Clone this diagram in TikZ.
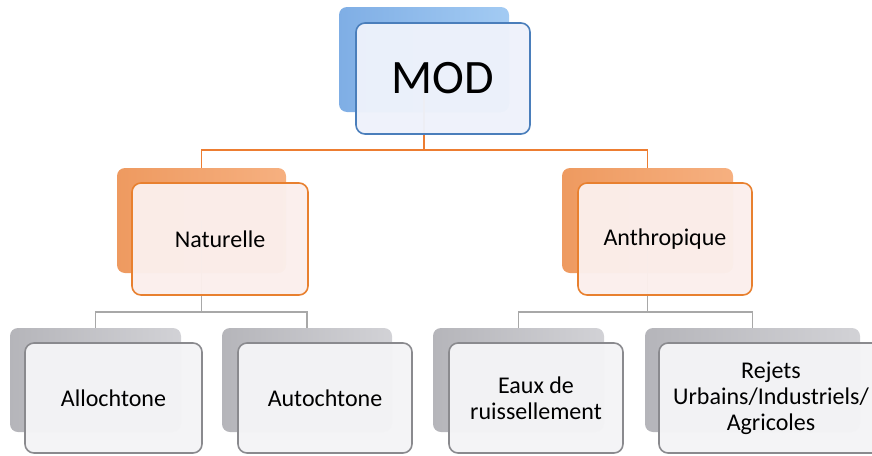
\documentclass[tikz,border=0pt]{standalone}
\usepackage{fontspec}
\setmainfont{Carlito}
\definecolor{bluebk}{HTML}{A3CBF3}
\definecolor{bluebkd}{HTML}{7FAEE5}
\definecolor{bluefr}{HTML}{EEF2FB}
\definecolor{blueln}{HTML}{4A7EBB}
\definecolor{orbk}{HTML}{F6B080}
\definecolor{orbkd}{HTML}{EE9A60}
\definecolor{orfr}{HTML}{FBEFEC}
\definecolor{orln}{HTML}{E8802F}
\definecolor{grbk}{HTML}{D2D2D6}
\definecolor{grbkd}{HTML}{B5B5BA}
\definecolor{grfr}{HTML}{F4F4F6}
\definecolor{grln}{HTML}{8A8A8E}
\definecolor{grcon}{HTML}{A8A8A8}
\definecolor{orcon}{HTML}{ED7D31}
\begin{document}
\begin{tikzpicture}[x=1pt,y=-1pt,
  backbox/.style={rounded corners=8pt, inner sep=0pt},
  bblue/.style={backbox, left color=bluebkd, right color=bluebk},
  borange/.style={backbox, left color=orbkd, right color=orbk},
  bgray/.style={backbox, left color=grbkd, right color=grbk},
  frontbox/.style={rounded corners=9pt, line width=1.6pt, inner sep=2pt, align=center, fill opacity=0.97, text opacity=1},
  fblue/.style={frontbox, draw=blueln, fill=bluefr},
  forange/.style={frontbox, draw=orln, fill=orfr},
  fgray/.style={frontbox, draw=grln, fill=grfr},
  orline/.style={draw=orcon, line width=1.3pt},
  grline/.style={draw=grcon, line width=1.3pt},
  midtxt/.style={font=\fontsize{24}{26}\selectfont},
]
\useasboundingbox (0,0) rectangle (872,455);
% back boxes
\node[bblue, minimum width=170pt, minimum height=105pt] (modb) at (424,59.5) {};
\node[borange, minimum width=169pt, minimum height=105pt] (natb) at (201.5,220.5) {};
\node[borange, minimum width=171pt, minimum height=105pt] (antb) at (647.5,220.5) {};
\node[bgray, minimum width=171pt, minimum height=104pt] (allb) at (95.5,380) {};
\node[bgray, minimum width=170pt, minimum height=104pt] (autb) at (307,380) {};
\node[bgray, minimum width=171pt, minimum height=104pt] (eaub) at (518.5,380) {};
\node[bgray, minimum width=215pt, minimum height=104pt] (rejb) at (752.5,380) {};
% connectors
\coordinate (modbus) at (424,150);
\coordinate (natbus) at (201.5,312);
\coordinate (antbus) at (647.5,312);
\draw[orline] (modb.center) -- (modbus);
\draw[orline] (natb.north) |- (modbus) -| (antb.north);
\draw[grline] (natb.center) -- (natbus);
\draw[grline] (allb.north) |- (natbus) -| (autb.north);
\draw[grline] (antb.center) -- (antbus);
\draw[grline] (eaub.north) |- (antbus) -| (rejb.north);
% front boxes
\node[fblue, minimum width=174pt, minimum height=111pt, font=\fontsize{48}{50}\selectfont] (mod) at (443,78.5) {MOD};
\node[forange, minimum width=176pt, minimum height=112pt, midtxt] (nat) at (220,239) {Naturelle};
\node[forange, minimum width=174pt, minimum height=112pt, midtxt] (ant) at (665,239) {Anthropique};
\node[fgray, minimum width=177pt, minimum height=110pt, midtxt] (all) at (113.5,398) {Allochtone};
\node[fgray, minimum width=174pt, minimum height=110pt, midtxt] (aut) at (325,398) {Autochtone};
\node[fgray, minimum width=174pt, minimum height=110pt, midtxt] (eau) at (536,398) {Eaux de\\ruissellement};
\node[fgray, minimum width=224pt, minimum height=110pt, midtxt] (rej) at (771,398) {Rejets\\Urbains/Industriels/\\Agricoles};
\end{tikzpicture}
\end{document}
